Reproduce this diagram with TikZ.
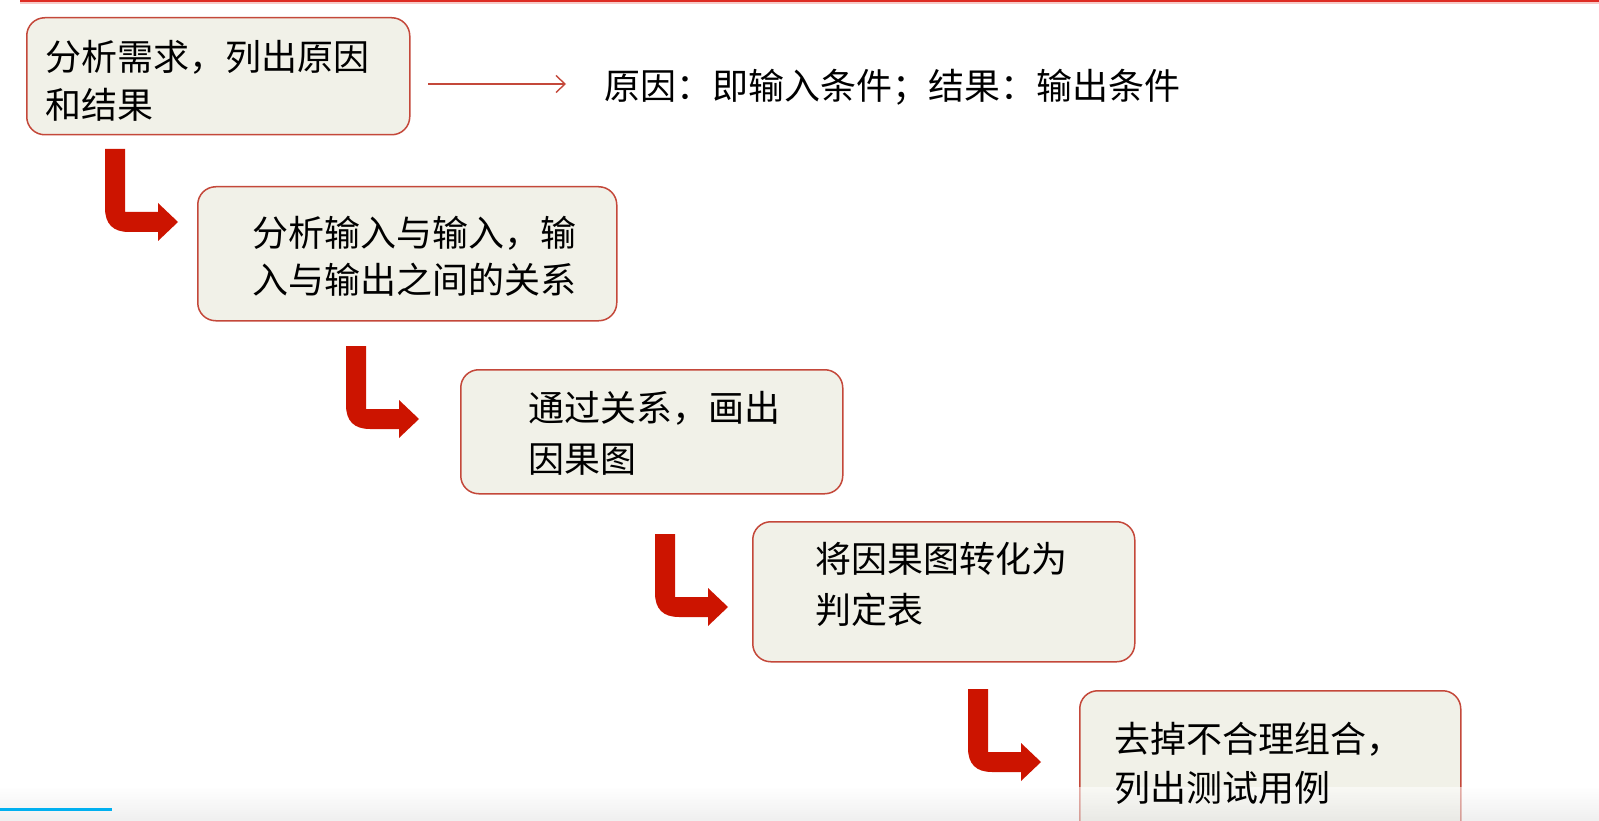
\documentclass[tikz,border=0pt]{standalone}
\usepackage{fontspec}
\newfontfamily\cjk{Noto Sans CJK SC}
\usetikzlibrary{arrows.meta}
\definecolor{boxfill}{RGB}{241,241,232}
\definecolor{boxline}{RGB}{196,72,58}
\definecolor{arrred}{RGB}{204,20,0}
\definecolor{topred}{RGB}{222,44,36}
\definecolor{barblue}{RGB}{0,176,240}
\begin{document}
\begin{tikzpicture}[x=1pt,y=-1pt,
  box/.style={draw=boxline, line width=1.5pt, fill=boxfill, rounded corners=18pt, anchor=north west, inner sep=0pt},
  txt/.style={anchor=base west, inner sep=0pt, font=\cjk\fontsize{36}{40}\selectfont, text=black},
  thinarrow/.style={draw=boxline, line width=1.4pt, -{Straight Barb[length=9pt,width=17pt,line width=1.4pt]}},
  bent/.pic={\fill[arrred] (0,0) -- (20,0) -- (20,63) -- (53,63) -- (53,54) -- (73,73) -- (53,92) -- (53,83) -- (24,83) .. controls (8,83) and (0,75) .. (0,59) -- cycle;}
]
\useasboundingbox (0,0) rectangle (1599,821);
\clip (0,0) rectangle (1599,821);
\fill[white] (0,0) rectangle (1599,821);
% top rule
\fill[topred] (20,0) rectangle (1599,2.5);
\fill[topred!25] (20,2.5) rectangle (1599,4);

% boxes
\node[box, minimum width=383pt, minimum height=117pt] (b1) at (26,17) {};
\node[box, minimum width=419pt, minimum height=134pt] (b2) at (197,186) {};
\node[box, minimum width=382pt, minimum height=124pt] (b3) at (460,369) {};
\node[box, minimum width=382pt, minimum height=140pt] (b4) at (752,521) {};
\node[box, minimum width=381pt, minimum height=160pt] (b5) at (1079,690) {};

% bottom bar (behind text)
\shade[top color=white, bottom color=black!11, opacity=0.55] (0,787) rectangle (1599,821);
\fill[black!4] (112,808.5) rectangle (330,810);
\fill[barblue] (0,808) rectangle (112,810.5);

% texts
\node[txt] (t1a) at (45,71) {分析需求，列出原因};
\node[txt] (t1b) at (45,119) {和结果};
\node[txt] (tr) at (604,100) {原因：即输入条件；结果：输出条件};
\node[txt] (t2a) at (252,247) {分析输入与输入，输};
\node[txt] (t2b) at (252,294) {入与输出之间的关系};
\node[txt] (t3a) at (528,421) {通过关系，画出};
\node[txt] (t3b) at (528,472) {因果图};
\node[txt] (t4a) at (815,572) {将因果图转化为};
\node[txt] (t4b) at (815,623) {判定表};
\node[txt] (t5a) at (1114,752) {去掉不合理组合，};
\node[txt] (t5b) at (1114,801) {列出测试用例};

% thin arrow
\coordinate (as) at (428,84);
\coordinate (ae) at (566,84);
\draw[thinarrow] (as) -- (ae);

% bent arrows
\pic at (105,149) {bent};
\pic at (346,346) {bent};
\pic at (655,534) {bent};
\pic at (968,689) {bent};
\end{tikzpicture}
\end{document}
